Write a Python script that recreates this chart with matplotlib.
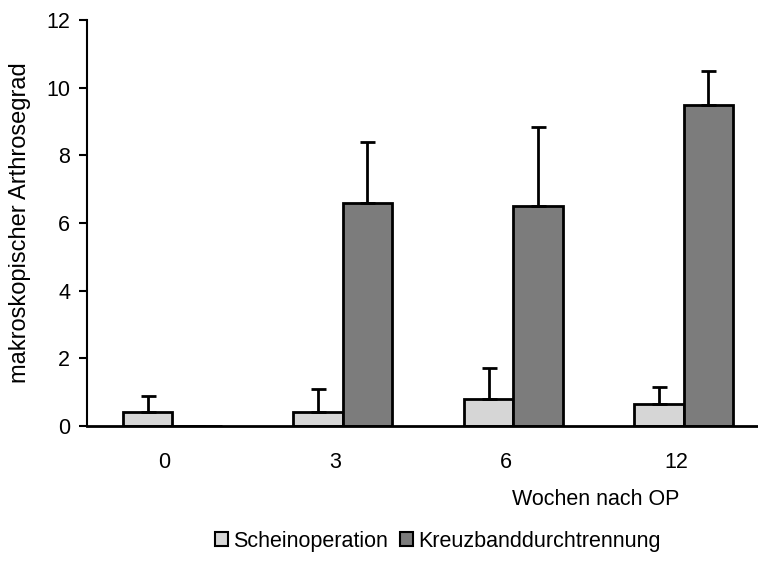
import numpy as np
import matplotlib.pyplot as plt
from matplotlib.patches import Patch

plt.rcParams['font.family'] = ['Liberation Sans', 'DejaVu Sans']

# Daten: makroskopischer Arthrosegrad (Mittelwert + SD)
wochen = ['0', '3', '6', '12']
schein = [0.4, 0.4, 0.8, 0.65]
schein_sd = [0.5, 0.7, 0.9, 0.5]
kreuz = [0.0, 6.6, 6.5, 9.5]
kreuz_sd = [0.0, 1.8, 2.35, 1.0]

farbe_schein = '#d6d6d6'
farbe_kreuz = '#7c7c7c'

fig = plt.figure(figsize=(7.58, 5.62), dpi=100)
ax = fig.add_axes([87 / 758, 1 - 426 / 562, 682 / 758, 406 / 562])

x = np.arange(len(wochen))
w = 0.29
err_kw = dict(elinewidth=2, capsize=5.4, capthick=2, ecolor='black')

ax.bar(x - w / 2, schein, w, color=farbe_schein, edgecolor='black', linewidth=2,
       yerr=[np.zeros(len(schein)), schein_sd], error_kw=err_kw)
ax.bar(x + w / 2, kreuz, w, color=farbe_kreuz, edgecolor='black', linewidth=2,
       yerr=[np.zeros(len(kreuz)), kreuz_sd], error_kw=err_kw)

ax.set_xlim(-0.5, 3.5)
ax.set_ylim(0, 12)
ax.set_yticks([0, 2, 4, 6, 8, 10, 12])
ax.set_xticks(x - 0.045)
ax.set_xticklabels(wochen)
ax.tick_params(axis='x', length=0, pad=19, labelsize=15.5)
ax.tick_params(axis='y', length=6, width=1.5, direction='out', pad=6, labelsize=15.5)

for s in ['top', 'right']:
    ax.spines[s].set_visible(False)
ax.spines['left'].set_linewidth(1.5)
ax.spines['bottom'].set_linewidth(2)

ax.set_ylabel('makroskopischer Arthrosegrad', fontsize=17, labelpad=11)
fig.text(512 / 758, 1 - 505 / 562, 'Wochen nach OP', fontsize=15.5, ha='left', va='baseline')

handles = [Patch(facecolor=farbe_schein, edgecolor='black', linewidth=1.5),
           Patch(facecolor=farbe_kreuz, edgecolor='black', linewidth=1.5)]
fig.legend(handles, ['Scheinoperation', 'Kreuzbanddurchtrennung'], loc='center',
           bbox_to_anchor=(0.578, 0.037), ncol=2, frameon=False, fontsize=15.5,
           handlelength=0.6, handleheight=0.6, handletextpad=0.25, columnspacing=0.55)

fig.savefig('out.png', dpi=100)
